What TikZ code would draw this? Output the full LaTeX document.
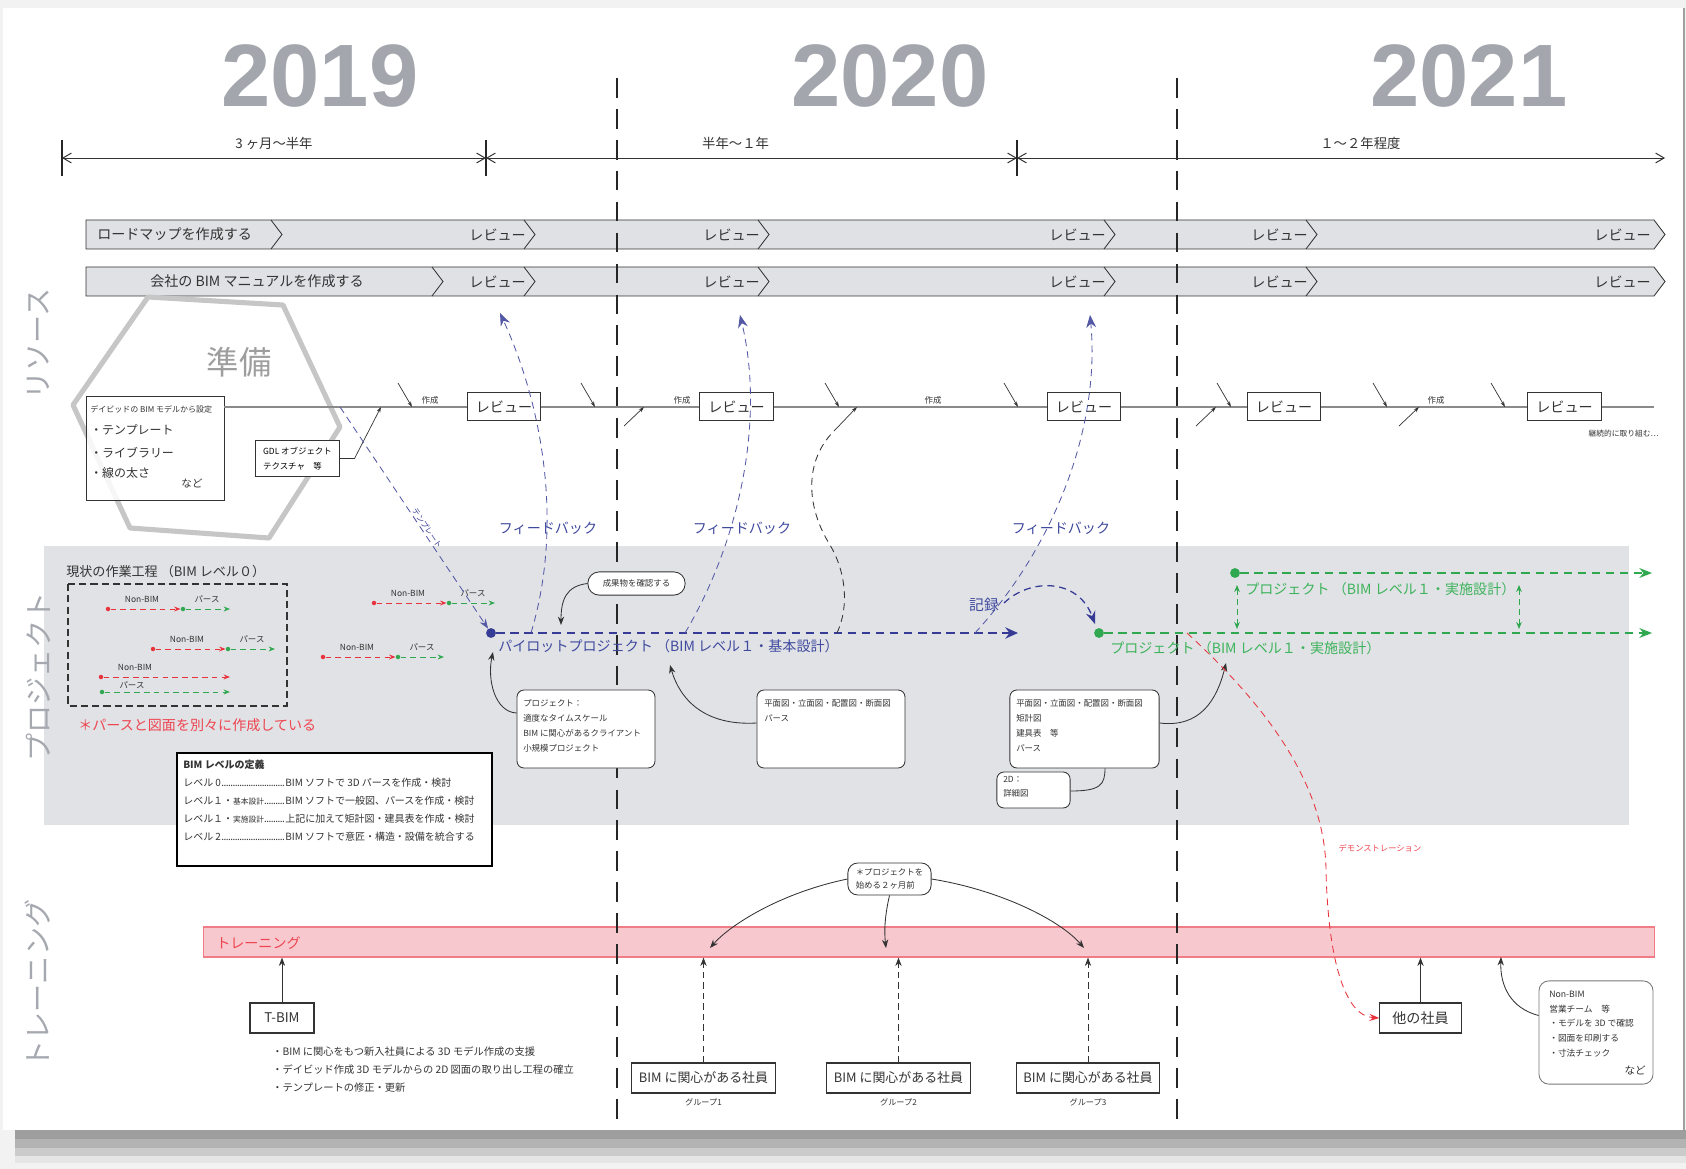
\documentclass[tikz,border=0pt]{standalone}
\usepackage{fontspec}
\setmainfont{Noto Sans CJK JP}
\newfontfamily\yearfont{Liberation Sans}
\usetikzlibrary{arrows.meta,positioning,calc}

\definecolor{ink}{HTML}{333333}
\definecolor{pagegray}{HTML}{F2F2F2}
\definecolor{edgegray}{HTML}{A0A0A0}
\definecolor{shadowa}{HTML}{9E9E9E}
\definecolor{shadowb}{HTML}{B3B3B3}
\definecolor{shadowc}{HTML}{CBCBCB}
\definecolor{shadowd}{HTML}{E5E5E5}
\definecolor{bargray}{HTML}{E0E1E4}
\definecolor{bandgray}{HTML}{E1E2E6}
\definecolor{resgray}{HTML}{8A8A8A}
\definecolor{yeargray}{HTML}{A3A6AC}
\definecolor{sidegray}{HTML}{A5A8AE}
\definecolor{hexgray}{HTML}{C6C6C6}
\definecolor{prepgray}{HTML}{9E9E9E}
\definecolor{bimblue}{HTML}{363C95}
\definecolor{bimbluetext}{HTML}{3F4A9E}
\definecolor{bimgreen}{HTML}{2FA84F}
\definecolor{bimgreentext}{HTML}{3DB35B}
\definecolor{bimred}{HTML}{E8333D}
\definecolor{bimredtext}{HTML}{EE4550}
\definecolor{pinkfill}{HTML}{F8C8CF}
\definecolor{pinkline}{HTML}{F07C86}
\definecolor{notegray}{HTML}{777777}

\newcommand{\fsz}[1]{\fontsize{#1}{#1}\selectfont}
\newcommand{\fszb}[2]{\fontsize{#1}{#2}\selectfont}
\newcommand{\leveldots}{\leaders\hbox to 1.6pt{\hss.\hss}\hfill}

\tikzset{
    year/.style = {
        text = yeargray,
        font = \yearfont\bfseries\fsz{63},
        inner sep = 0,
        },
    side label/.style = {
        rotate = 90,
        text = sidegray,
        font = \fsz{20},
        inner sep = 0,
        },
    span label/.style = {
        text = ink,
        font = \fsz{9.5},
        inner sep = 0,
        },
    span tick/.style = {
        draw = black!85,
        line width = 2pt,
        },
    span arrow/.style = {
        draw = black!80,
        line width = 0.7pt,
        {Straight Barb[length=6pt,width=7pt]}-{Straight Barb[length=6pt,width=7pt]},
        },
    divider/.style = {
        draw = black!85,
        line width = 1.3pt,
        dash pattern = on 14pt off 8pt,
        },
    task bar/.style = {
        fill = bargray,
        draw = ink,
        line width = 0.6pt,
        },
    chev/.style = {
        draw = ink,
        line width = 0.6pt,
        },
    bar text/.style = {
        text = ink,
        font = \fsz{10},
        inner sep = 0,
        },
    review/.style = {
        draw = ink,
        fill = white,
        line width = 0.6pt,
        minimum width = 1.83cm,
        minimum height = 0.68cm,
        text = ink,
        font = \fsz{10},
        inner sep = 0,
        },
    res line/.style = {
        draw = resgray,
        line width = 1pt,
        },
    nudge/.style = {
        draw = ink,
        line width = 0.5pt,
        -{Stealth[length=4pt,width=2.6pt]},
        },
    hexagon/.style = {
        draw = hexgray,
        line width = 3.6pt,
        line join = round,
        },
    infobox/.style = {
        draw = ink,
        fill = white,
        line width = 0.6pt,
        inner sep = 0,
        },
    note/.style = {
        draw = ink,
        fill = white,
        line width = 0.6pt,
        rounded corners = 5pt,
        inner sep = 0,
        },
    small text/.style = {
        text = ink,
        font = \fsz{6},
        inner sep = 0,
        },
    item text/.style = {
        text = ink,
        font = \fsz{8.5},
        inner sep = 0,
        },
    feedback/.style = {
        draw = bimblue!85,
        line width = 0.6pt,
        dash pattern = on 5pt off 3.5pt,
        -{Stealth[length=9pt,width=7pt]},
        },
    record/.style = {
        draw = bimblue,
        line width = 0.9pt,
        dash pattern = on 5pt off 3.5pt,
        -{Stealth[length=9pt,width=7pt]},
        },
    template/.style = {
        draw = bimblue!85,
        line width = 0.6pt,
        dash pattern = on 5pt off 3.5pt,
        -{Stealth[length=7pt,width=5pt]},
        },
    blue label/.style = {
        text = bimbluetext,
        font = \fsz{10},
        inner sep = 0,
        },
    pilot/.style = {
        draw = bimblue,
        line width = 1.6pt,
        dash pattern = on 6pt off 4pt,
        -{Stealth[length=9pt,width=8pt]},
        },
    project/.style = {
        draw = bimgreen,
        line width = 1pt,
        dash pattern = on 6pt off 4pt,
        -{Stealth[length=9pt,width=7pt]},
        },
    green link/.style = {
        draw = bimgreen,
        line width = 0.6pt,
        dash pattern = on 4pt off 3pt,
        {Stealth[length=5pt,width=4pt]}-{Stealth[length=5pt,width=4pt]},
        },
    green label/.style = {
        text = bimgreentext,
        font = \fsz{10},
        inner sep = 0,
        },
    bdot/.style = {
        circle,
        fill = bimblue,
        minimum size = 7pt,
        inner sep = 0,
        },
    gbig/.style = {
        circle,
        fill = bimgreen,
        minimum size = 7pt,
        inner sep = 0,
        },
    rdot/.style = {
        circle,
        fill = bimred,
        minimum size = 3.2pt,
        inner sep = 0,
        },
    gdot/.style = {
        circle,
        fill = bimgreen,
        minimum size = 3.2pt,
        inner sep = 0,
        },
    red flow/.style = {
        draw = bimred,
        line width = 0.7pt,
        dash pattern = on 4pt off 3pt,
        -{Stealth[length=4.5pt,width=3.5pt]},
        },
    green flow/.style = {
        draw = bimgreen,
        line width = 0.7pt,
        dash pattern = on 4pt off 3pt,
        -{Stealth[length=4.5pt,width=3.5pt]},
        },
    flow label/.style = {
        text = ink,
        font = \fsz{6},
        inner sep = 0,
        },
    dash box/.style = {
        draw = ink,
        line width = 0.8pt,
        dash pattern = on 5pt off 3pt,
        },
    note arrow/.style = {
        draw = ink,
        line width = 0.6pt,
        -{Stealth[length=6pt,width=4.5pt]},
        },
    link/.style = {
        draw = ink,
        line width = 0.6pt,
        },
    black dash/.style = {
        draw = ink,
        line width = 0.6pt,
        dash pattern = on 5pt off 3.5pt,
        },
    train bar/.style = {
        fill = pinkfill,
        draw = pinkline,
        line width = 0.8pt,
        inner sep = 0,
        },
    tag box/.style = {
        draw = ink,
        fill = white,
        line width = 0.8pt,
        text = ink,
        inner sep = 0,
        },
    up arrow/.style = {
        draw = ink,
        line width = 0.7pt,
        -{Stealth[length=6pt,width=4.5pt]},
        },
    up dashed/.style = {
        up arrow,
        dash pattern = on 4.5pt off 3pt,
        },
    demo/.style = {
        draw = bimred,
        line width = 0.6pt,
        dash pattern = on 5pt off 3.5pt,
        -{Stealth[length=7pt,width=5pt]},
        },
    level text/.style = {
        align = left,
        text = ink,
        font = \fszb{7.1}{12.8},
        inner sep = 0,
        },
}

\begin{document}
\begin{tikzpicture}[x=0.025cm, y=-0.025cm]
    % page and shadow
    \useasboundingbox (0,0) rectangle (1686,1169);
    \fill[pagegray] (0,0) rectangle (1686,1169);
    \fill[white] (3,8) rectangle (1683,1130);
    \fill[shadowa] (15,1130) rectangle (1686,1139);
    \fill[shadowb] (15,1139) rectangle (1686,1148);
    \fill[shadowc] (15,1148) rectangle (1686,1156);
    \fill[shadowd] (15,1156) rectangle (1686,1163);
    \draw[edgegray, line width=1.2pt] (1684,8) -- (1684,1130);

    % lanes
    \fill[bandgray] (44,546) rectangle (1629,825);
    \node[train bar, minimum width=36.25cm, minimum height=0.75cm] (train) at (929,942) {};
    \node[text=bimredtext, font=\fsz{10}, inner sep=0, anchor=west] (trainlbl) at (216,943) {トレーニング};

    % task bars
    \foreach \ty/\cut in {220/282, 267/443} {
        \draw[task bar] (86,\ty) -- (1654,\ty) -- (1665,\ty+14.5) -- (1654,\ty+29) -- (86,\ty+29) -- cycle;
        \foreach \cx in {\cut,535,769,1115,1317}
            \draw[chev] (\cx-11,\ty) -- (\cx,\ty+14.5) -- (\cx-11,\ty+29);
        \foreach \cx [count=\kk] in {535,769,1115,1317,1660}
            \node[bar text, anchor=east] (bar\ty-\kk) at (\cx-9,\ty+14.5) {レビュー};
    }
    \node[bar text, anchor=west] (roadmap) at (97,234.5) {ロードマップを作成する};
    \node[bar text] (manual) at (257,281.5) {会社の BIM マニュアルを作成する};

    % year dividers
    \foreach \x [count=\i] in {617,1177} {
        \coordinate (dtop\i) at (\x,78);
        \coordinate (dbot\i) at (\x,1129);
        \draw[divider] (dtop\i) -- (dbot\i);
    }

    % years and lanes
    \node[year] (y2019) at (320,76) {2019};
    \node[year] (y2020) at (890,76) {2020};
    \node[year] (y2021) at (1469,76) {2021};
    \node[side label] (lres) at (38,344) {リソース};
    \node[side label] (lprj) at (38,677) {プロジェクト};
    \node[side label] (ltrn) at (38,984) {トレーニング};

    % time spans
    \foreach \x [count=\i] in {62,486,1017} {
        \coordinate (t\i) at (\x,158);
        \draw[span tick] (\x,140) -- (\x,176);
    }
    \coordinate (t4) at (1665,158);
    \draw[span arrow] (t1) -- node[span label, above=0.2cm] (sp1) {3 ヶ月〜半年} (t2);
    \draw[span arrow] (t2) -- node[span label, above=0.2cm, pos=0.47] (sp2) {半年〜１年} (t3);
    \draw[span arrow] (t3) -- node[span label, above=0.2cm, pos=0.53] (sp3) {１〜２年程度} (t4);

    % resources
    \draw[hexagon] (148,297) -- (283,305) -- (340,427) -- (269,538) -- (130,528) -- (73,405) -- cycle;
    \node[text=prepgray, font=\fsz{23}, inner sep=0] (prep) at (239,362) {準備};
    \node[infobox, fill opacity=0.85, minimum width=3.45cm, minimum height=2.6cm] (setbox) at (155,448) {};
    \node[small text, font=\fsz{5.7}, anchor=west] (setfrom) at (90,409) {デイビッドの BIM モデルから設定};
    \node[item text, anchor=west] (it1) at (90,430) {・テンプレート};
    \node[item text, anchor=west] (it2) at (90,453) {・ライブラリー};
    \node[item text, anchor=west] (it3) at (90,473) {・線の太さ};
    \node[item text, font=\fsz{7.5}] (it4) at (192,483) {など};

    \coordinate (resend) at (1654,407);
    \draw[res line] (setbox.east |- resend) -- (resend);

    \node[infobox, minimum width=2.08cm, minimum height=0.88cm, align=left, font=\fszb{6}{10.5}] (gdl) at (297.5,458.5) {GDL オブジェクト\\テクスチャ　等};
    \coordinate (gdlin) at (381,407);
    \draw[nudge] (gdl.east) -- ++(15,0) -- (gdlin);

    \foreach \x [count=\i] in {504,736.5,1084,1284,1564.5}
        \node[review] (rv\i) at (\x,406.5) {レビュー};
    \foreach \x [count=\i] in {412,595,839,1018,1231,1387,1505} {
        \coordinate (cin\i) at (\x,407);
        \draw[nudge] ($(cin\i)+(-14,-24)$) -- (cin\i);
    }
    \foreach \x [count=\i] in {644,1216,1419} {
        \coordinate (cup\i) at (\x,407);
        \draw[nudge] ($(cup\i)+(-20,19)$) -- (cup\i);
    }
    \foreach \x [count=\i] in {430,682,933,1436}
        \node[small text] (mk\i) at (\x,400) {作成};
    \node[small text, font=\fsz{5.5}, anchor=east] (cont) at (1659,434) {継続的に取り組む…};

    % current workflow
    \node[text=ink, font=\fsz{9.3}, inner sep=0, anchor=west] (nowtitle) at (66,572) {現状の作業工程 （BIM レベル０）};
    \draw[dash box] (68,584) rectangle (287,706);
    \foreach \rx/\gx/\ex/\y [count=\i] in {108/183/230/609, 153/228/275/649, 374/449/495/603, 323/398/444/657} {
        \node[rdot] (nb\i) at (\rx,\y) {};
        \node[gdot] (ps\i) at (\gx,\y) {};
        \coordinate (pe\i) at (\ex,\y);
        \draw[red flow] (nb\i) -- (ps\i);
        \draw[green flow] (ps\i) -- (pe\i);
        \node[flow label] (nbl\i) at (\rx+34,\y-10) {Non-BIM};
        \node[flow label] (psl\i) at (\gx+24,\y-10) {パース};
    }
    \node[rdot] (nb5) at (101,677) {};
    \coordinate (nbe5) at (230,677);
    \draw[red flow] (nb5) -- (nbe5);
    \node[flow label] (nbl5) at (135,667) {Non-BIM};
    \node[gdot] (ps5) at (102,692) {};
    \coordinate (pse5) at (230,692);
    \draw[green flow] (ps5) -- (pse5);
    \node[flow label] (psl5) at (132,685) {パース};
    \node[text=bimredtext, font=\fsz{10}, inner sep=0, anchor=west] (sepnote) at (78,725) {＊パースと図面を別々に作成している};

    % pilot project
    \node[bdot] (pdot) at (491,633) {};
    \coordinate (pend) at (1018,633);
    \draw[pilot] (pdot) -- (pend);
    \node[blue label, anchor=west] (pilotlbl) at (498,646) {パイロットプロジェクト （BIM レベル１・基本設計）};
    \coordinate (tplstart) at (340,407);
    \draw[template] (tplstart) -- node[pos=0.56, sloped, above=1pt, text=bimblue, font=\fsz{5.5}, inner sep=0] (tpllbl) {テンプレート} (pdot);

    % feedback
    \coordinate (fb1s) at (531,633);
    \coordinate (fb1t) at (500,313);
    \coordinate (fb2s) at (685,633);
    \coordinate (fb2t) at (740,315);
    \coordinate (fb3s) at (975,633);
    \coordinate (fb3t) at (1090,315);
    \draw[feedback] (fb1s) .. controls (565,520) and (540,400) .. (fb1t);
    \draw[feedback] (fb2s) .. controls (740,540) and (765,420) .. (fb2t);
    \draw[feedback] (fb3s) .. controls (1060,540) and (1100,420) .. (fb3t);
    \node[blue label] (fbl1) at (548,528) {フィードバック};
    \node[blue label] (fbl2) at (742,528) {フィードバック};
    \node[blue label] (fbl3) at (1061,528) {フィードバック};

    % creation loop from the pilot
    \coordinate (pls) at (837,633);
    \coordinate (stail) at (834,431);
    \coordinate (scin) at (857,407);
    \draw[black dash] (pls) .. controls (850,605) and (845,570) .. (830,545) .. controls (805,505) and (805,460) .. (stail);
    \draw[nudge] (stail) -- (scin);

    % check note
    \node[note, rounded corners=8pt, minimum width=2.43cm, minimum height=0.58cm, font=\fsz{6}, text=ink] (chk) at (636.5,583.5) {成果物を確認する};
    \coordinate (chkin) at (561,625);
    \draw[note arrow] (chk.west) .. controls (566,586) and (561,600) .. (chkin);

    % project boxes
    \node[note, minimum width=3.45cm, minimum height=1.95cm] (prjbox) at (586,729) {};
    \node[small text, anchor=north west, align=left, font=\fszb{6}{10.6}] (prjtext) at (523,699) {プロジェクト：\\適度なタイムスケール\\BIM に関心があるクライアント\\小規模プロジェクト};
    \coordinate (pt1) at (493,652);
    \draw[note arrow] ($(prjbox.west)+(0,-16)$) .. controls (495,712) and (487,680) .. (pt1);

    \node[note, minimum width=3.7cm, minimum height=1.95cm] (planbox) at (831,729) {};
    \node[small text, anchor=north west, align=left, font=\fszb{6}{10.6}] (plantext) at (764,699) {平面図・立面図・配置図・断面図\\パース};
    \coordinate (pt2) at (670,665);
    \draw[note arrow] ($(planbox.west)+(0,-6)$) .. controls (705,726) and (680,700) .. (pt2);

    \node[note, minimum width=3.73cm, minimum height=1.95cm] (detbox) at (1084.5,729) {};
    \node[small text, anchor=north west, align=left, font=\fszb{6}{10.6}] (dettext) at (1016,699) {平面図・立面図・配置図・断面図\\矩計図\\建具表　等\\パース};
    \coordinate (pt3) at (1226,663);
    \draw[note arrow] ($(detbox.east)+(0,-6)$) .. controls (1200,728) and (1217,700) .. (pt3);

    \node[note, minimum width=1.83cm, minimum height=0.9cm] (twodbox) at (1033.5,790) {};
    \node[small text, anchor=north west, align=left, font=\fszb{6}{10}] (twodtext) at (1003,776) {2D：\\詳細図};
    \draw[link] ($(twodbox.east)+(0,1)$) .. controls (1100,791) and (1105,785) .. ($(detbox.south)+(20.5,0)$);

    % record and projects
    \node[gbig] (g1) at (1099,633) {};
    \node[gbig] (g2) at (1235,573) {};
    \coordinate (recs) at (1004,603);
    \coordinate (rect) at (1095,624);
    \draw[record] (recs) .. controls (1030,578) and (1078,578) .. (rect);
    \node[blue label, font=\fsz{10.5}] (reclbl) at (984,605) {記録};
    \coordinate (g1end) at (1652,633);
    \coordinate (g2end) at (1652,573);
    \draw[project] (g1) -- (g1end);
    \draw[project] (g2) -- (g2end);
    \node[green label, anchor=west] (p1lbl) at (1110,648) {プロジェクト （BIM レベル１・実施設計）};
    \node[green label, anchor=west] (p2lbl) at (1245,589) {プロジェクト （BIM レベル１・実施設計）};
    \foreach \x [count=\i] in {1237,1519} {
        \coordinate (vu\i) at (\x,585);
        \coordinate (vd\i) at (\x,629);
        \draw[green link] (vu\i) -- (vd\i);
    }

    % BIM levels
    \node[draw=black, line width=1.2pt, fill=white, minimum width=7.88cm, minimum height=2.83cm, inner sep=0] (lvbox) at (334.5,809.5) {};
    \node[level text, anchor=north west] (lvtext) at (183,760) {%
        \textbf{BIM レベルの定義}\\
        \makebox[2.55cm][l]{レベル 0\leveldots}BIM ソフトで 3D パースを作成・検討\\
        \makebox[2.55cm][l]{レベル１・{\fsz{5.5}基本設計}\leveldots}BIM ソフトで一般図、パースを作成・検討\\
        \makebox[2.55cm][l]{レベル１・{\fsz{5.5}実施設計}\leveldots}上記に加えて矩計図・建具表を作成・検討\\
        \makebox[2.55cm][l]{レベル 2\leveldots}BIM ソフトで意匠・構造・設備を統合する};

    % training
    \node[tag box, minimum width=1.6cm, minimum height=0.75cm, font=\fsz{9.5}] (tbim) at (282,1018) {T-BIM};
    \draw[up arrow] (tbim.north) -- (tbim.north |- train.south);
    \node[small text, anchor=north west, align=left, font=\fszb{7.3}{12.8}] (tbimlist) at (272,1046) {・BIM に関心をもつ新入社員による 3D モデル作成の支援\\・デイビッド作成 3D モデルからの 2D 図面の取り出し工程の確立\\・テンプレートの修正・更新};

    \foreach \x [count=\i] in {703.5,898.5,1088} {
        \node[tag box, minimum width=3.58cm, minimum height=0.75cm, font=\fsz{9.2}] (grp\i) at (\x,1078) {BIM に関心がある社員};
        \node[small text, font=\fsz{5.8}, below=0.12cm of grp\i] (grptag\i) {グループ\i};
        \draw[up dashed] (grp\i.north) -- (grp\i.north |- train.south);
    }

    \node[note, rounded corners=7pt, minimum width=2.08cm, minimum height=0.8cm, align=left, text=ink, font=\fszb{6}{9}] (twomonth) at (889.5,879) {＊プロジェクトを\\始める２ヶ月前};
    \coordinate (na1) at (710,948);
    \coordinate (na2) at (886,948);
    \coordinate (na3) at (1084,948);
    \draw[note arrow] (twomonth.west) .. controls (780,893) and (730,925) .. (na1);
    \draw[note arrow] (twomonth.south) .. controls (885,915) and (884,930) .. (na2);
    \draw[note arrow] (twomonth.east) .. controls (1000,890) and (1060,920) .. (na3);

    \node[tag box, minimum width=2.03cm, minimum height=0.75cm, font=\fsz{10}] (others) at (1420.5,1018) {他の社員};
    \draw[up arrow] (others.north) -- (others.north |- train.south);

    \node[note, draw=notegray, rounded corners=7pt, minimum width=2.85cm, minimum height=2.58cm] (salesbox) at (1596,1032.5) {};
    \node[small text, anchor=north west, align=left, font=\fszb{6.2}{10.4}] (salestext) at (1549,991) {Non-BIM\\営業チーム　等\\・モデルを 3D で確認\\・図面を印刷する\\・寸法チェック};
    \node[small text, font=\fsz{7.5}, anchor=east] (salesetc) at (1646,1070) {など};
    \coordinate (na4) at (1501,957);
    \draw[note arrow] ($(salesbox.west)+(0,-17)$) .. controls (1510,1008) and (1500,985) .. (na4);

    % demonstration
    \coordinate (demos) at (1187,633);
    \draw[demo] (demos) .. controls (1260,700) and (1325,780) .. (1326,870) .. controls (1328,960) and (1345,1016) .. (others.west);
    \node[text=bimredtext, font=\fsz{5.9}, inner sep=0] (demolbl) at (1380,848) {デモンストレーション};
\end{tikzpicture}
\end{document}
